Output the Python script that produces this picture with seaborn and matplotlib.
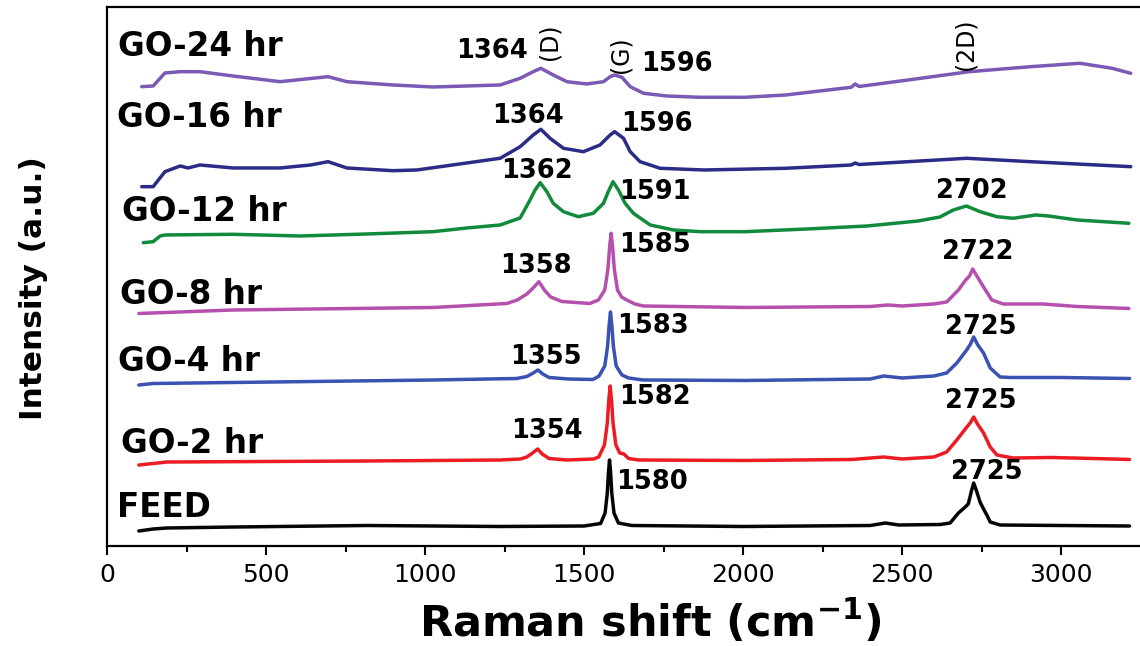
import matplotlib
matplotlib.use("Agg")
import matplotlib.pyplot as plt
from matplotlib.ticker import MultipleLocator
import seaborn as sns

# ---------------- Raman spectra (stacked intensity, a.u.) ----------------
feed_shift = [100, 145, 188, 400, 817, 1236, 1500, 1552, 1566, 1573, 1576.5, 1580, 1583.5,
              1587, 1594, 1608, 1650, 2000, 2400, 2447, 2490, 2620, 2651, 2677, 2695, 2708,
              2718, 2725, 2733, 2745, 2756, 2768, 2777, 2808, 3000, 3215]
feed_int = [15, 17, 18, 19, 20.5, 19.5, 20, 22.5, 33, 53, 73, 86, 73,
            53, 33, 23, 20.5, 19.5, 20.5, 23, 21, 21.5, 23, 33, 38, 42,
            55, 63, 56, 44, 37, 30, 24, 21, 20.5, 20]

go2_shift = [100, 145, 188, 817, 1236, 1300, 1320, 1338, 1354, 1368, 1390, 1446, 1530, 1546,
             1564, 1573, 1577.5, 1582, 1586.5, 1591, 1600, 1612, 1625, 1640, 1672, 2006, 2340,
             2442, 2500, 2600, 2640, 2672, 2701, 2714, 2725, 2737, 2756, 2777, 2798, 2849,
             2969, 3100, 3215]
go2_int = [81, 82.5, 84, 85, 86, 87, 89, 93, 97, 92, 87.5, 86, 87, 89,
           101, 123, 145, 160, 145, 123, 101, 93, 92, 87.5, 86, 85.5, 86.5,
           89, 87, 89, 94, 106, 118, 123, 129, 122, 113, 99, 91, 88,
           88.5, 87.5, 86.5]

go4_shift = [100, 145, 396, 1025, 1288, 1320, 1340, 1355, 1370, 1390, 1450, 1528, 1547, 1565,
             1574, 1578.5, 1583, 1587.5, 1592, 1601, 1619, 1640, 1686, 2006, 2400, 2442, 2500,
             2600, 2640, 2672, 2703, 2715, 2725, 2738, 2756, 2777, 2808, 2840, 3000, 3215]
go4_int = [161, 162.5, 163.5, 166, 167.5, 169.5, 173, 176, 172, 168.5, 167, 166.5, 170, 180,
           200, 220, 234, 220, 200, 180, 171, 168, 166, 165.5, 167, 170, 168,
           170, 173, 183, 196, 202, 209, 201, 193, 178, 169, 168.5, 168.5, 167.5]

go8_shift = [100, 396, 1025, 1257, 1290, 1320, 1340, 1358, 1375, 1395, 1430, 1518, 1545, 1565,
             1575, 1580, 1585, 1590, 1595, 1605, 1618, 1634, 1660, 1686, 2006, 2400, 2455,
             2500, 2600, 2640, 2677, 2700, 2712, 2722, 2735, 2756, 2782, 2818, 2943, 3050, 3213]
go8_int = [232.5, 236, 238.5, 242.5, 246, 252, 258, 264.3, 256, 249, 244.5, 242.5, 246, 256,
           277, 298, 312.7, 298, 277, 256, 249, 246, 242, 240, 238.5, 239.5, 241,
           240, 242, 244, 256, 266, 270, 277, 270, 259, 246, 242, 242, 239.5, 237.5]

go12_shift = [114, 145, 167, 182, 396, 607, 817, 1025, 1131, 1236, 1299, 1330, 1346, 1362,
              1383, 1403, 1435, 1482, 1529, 1561, 1576, 1591, 1608, 1629, 1655, 1708, 1781,
              1865, 2006, 2200, 2390, 2550, 2619, 2661, 2702, 2745, 2798, 2849, 2920, 2960,
              3050, 3213]
go12_int = [303.3, 304.3, 310, 311, 311.7, 310, 312, 314.3, 318, 321, 328, 346, 356, 363.3,
            354.3, 342.7, 334.3, 329.3, 332.7, 342.7, 354.3, 364.3, 356, 342.7, 332.7, 321, 316,
            314.3, 314.3, 317, 320, 325, 329, 336, 340, 334.3, 329.3, 327.7, 331, 330,
            326, 322.7]

go16_shift = [109, 145, 182, 230, 255, 292, 396, 544, 640, 695, 754, 899, 974, 1131, 1236,
              1299, 1340, 1364, 1393, 1435, 1498, 1550, 1582, 1596, 1624, 1645, 1676, 1739,
              1877, 2134, 2340, 2352, 2365, 2519, 2703, 2904, 3219]
go16_int = [359.3, 359.3, 374.3, 380, 378, 381, 378, 378, 381, 384.3, 378, 375.3, 376, 383, 387.7,
            399.3, 411, 416.7, 407.7, 397.7, 394.3, 401, 411, 414.3, 407.7, 394.3, 384.3, 377.7,
            376, 377.7, 381, 383, 381.5, 384.3, 387.7, 384.3, 379.3]

go24_shift = [109, 145, 182, 230, 292, 396, 544, 695, 754, 899, 1025, 1236, 1299, 1340, 1364,
              1403, 1446, 1508, 1561, 1582, 1596, 1619, 1645, 1687, 1760, 1865, 2006, 2134,
              2340, 2352, 2365, 2519, 2711, 2904, 3059, 3160, 3219]
go24_int = [459.3, 460, 473, 474.3, 474.3, 470, 464.3, 469.3, 464.3, 461, 459, 461, 467.7, 474.3,
            477.7, 471, 464.3, 462, 464.3, 469.3, 471, 468.7, 459.3, 452.7, 450, 448.7, 448.7,
            451, 458.7, 462, 459.5, 466, 474.3, 479.3, 482.7, 477.7, 472.7]

sample_names = ["FEED", "GO-2 hr", "GO-4 hr", "GO-8 hr", "GO-12 hr", "GO-16 hr", "GO-24 hr"]
shifts = [feed_shift, go2_shift, go4_shift, go8_shift, go12_shift, go16_shift, go24_shift]
intensities = [feed_int, go2_int, go4_int, go8_int, go12_int, go16_int, go24_int]

# labelled band positions (cm^-1) for each spectrum
peak_positions = [
    [1580, 2725],
    [1354, 1582, 2725],
    [1355, 1583, 2725],
    [1358, 1585, 2722],
    [1362, 1591, 2702],
    [1364, 1596],
    [1364, 1596],
]
band_names = ["(D)", "(G)", "(2D)"]

x_ticks = [0, 500, 1000, 1500, 2000, 2500, 3000]

# ---------------- styling / layout ----------------
line_colors = ["#050505", "#ec1c24", "#3a52b2", "#b550ad", "#128a3b", "#2a2c88", "#7a5ab5"]

name_xy = [(31, 29), (44, 93), (35, 175), (41, 242), (47, 325), (31, 419), (35, 490)]
peak_label_xy = [
    [(1714, 57), (2767, 67)],
    [(1384, 108), (1723, 142), (2748, 138)],
    [(1380, 182), (1717, 213), (2748, 212)],
    [(1349, 273), (1723, 294), (2739, 287)],
    [(1352, 368), (1723, 347), (2720, 348)],
    [(1324, 423), (1730, 415)],
    [(1211, 488), (1792, 475)],
]
band_xy = [(1392, 504), (1614, 491), (2700, 502)]

sns.set_theme(style="ticks")
plt.rcParams["font.family"] = "DejaVu Sans"
plt.rcParams["mathtext.fontset"] = "dejavusans"
plt.rcParams["text.color"] = "black"
plt.rcParams["axes.labelcolor"] = "black"

fig = plt.figure(figsize=(11.4, 6.46), dpi=100)
ax = fig.add_axes([0.0939, 0.1548, 0.9061, 0.8344])

for sx, sy, col in zip(shifts, intensities, line_colors):
    sns.lineplot(x=sx, y=sy, color=col, linewidth=2.5, ax=ax, legend=False)

for name, (nx, ny) in zip(sample_names, name_xy):
    ax.text(nx, ny, name, fontsize=23.5, fontweight="bold", ha="left", va="baseline",
            color="black")

for peaks, spots in zip(peak_positions, peak_label_xy):
    for p, (px, py) in zip(peaks, spots):
        ax.text(px, py, f"{p}", fontsize=18.5, fontweight="bold", ha="center",
                va="baseline", color="black")

for band, (bx, by) in zip(band_names, band_xy):
    ax.text(bx, by, band, fontsize=17, rotation=90, ha="center", va="center", color="black")

ax.set_xlim(0, 3248)
ax.set_ylim(0, 539)
ax.set_xticks(x_ticks)
ax.xaxis.set_minor_locator(MultipleLocator(250))
ax.set_yticks([])

for side in ["left", "bottom", "top"]:
    ax.spines[side].set_linewidth(1.6)
    ax.spines[side].set_color("black")
ax.spines["right"].set_visible(False)

ax.tick_params(axis="x", which="major", direction="out", length=6.5, width=1.5,
               labelsize=18, pad=6, colors="black")
ax.tick_params(axis="x", which="minor", direction="out", length=4, width=1.5,
               colors="black")

ax.set_xlabel(r"Raman shift (cm$^{\mathbf{-1}}$)", fontsize=31, fontweight="bold",
              color="black")
ax.xaxis.set_label_coords(0.526, -0.169)
ax.xaxis.label.set_va("baseline")

ax.set_ylabel("Intensity (a.u.)", fontsize=22.5, fontweight="bold", color="black")
ax.yaxis.set_label_coords(-0.0716, 0.479)
ax.yaxis.label.set_va("center")

fig.savefig("out.png", dpi=100)
